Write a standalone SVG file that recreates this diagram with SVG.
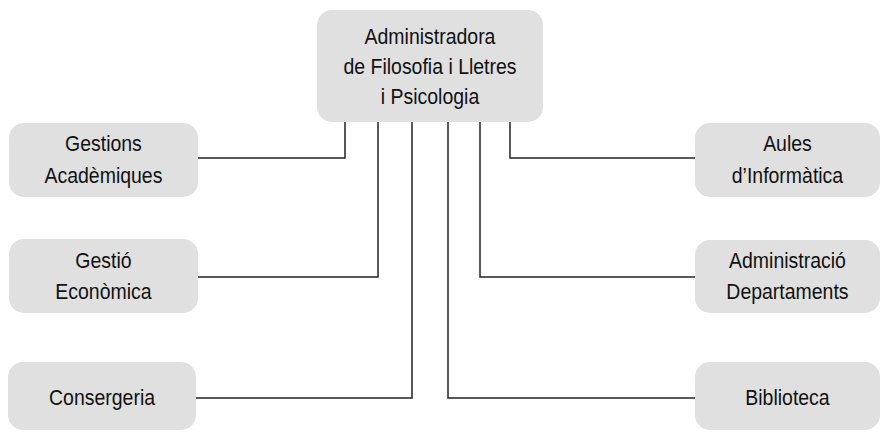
<svg xmlns="http://www.w3.org/2000/svg" width="881" height="432" viewBox="0 0 881 432">
<style>
.box{fill:#e0e0e0;stroke:none}
.t{font-family:"Liberation Sans",Arial,sans-serif;font-size:22px;fill:#111;text-anchor:middle}
.c{fill:none;stroke:#222;stroke-width:1.5}
</style>
<rect width="881" height="432" fill="#fff"/>
<g id="connectors">
<polyline class="c" points="345,122 345,158 198,158"/>
<polyline class="c" points="378,122 378,277 198,277"/>
<polyline class="c" points="412,122 412,398 196,398"/>
<polyline class="c" points="448,122 448,398 695,398"/>
<polyline class="c" points="480,122 480,277 695,277"/>
<polyline class="c" points="510,122 510,158 695,158"/>
</g>
<g id="root">
<rect class="box" x="317" y="10" width="226" height="112" rx="15"/>
<g transform="scale(0.885 1)">
<text class="t" x="485.9" y="44">Administradora</text>
<text class="t" x="485.9" y="74">de Filosofia i Lletres</text>
<text class="t" x="485.9" y="104">i Psicologia</text>
</g>
</g>
<g id="gestions">
<rect class="box" x="9" y="123" width="189" height="74" rx="15"/>
<g transform="scale(0.885 1)">
<text class="t" x="116.9" y="151">Gestions</text>
<text class="t" x="116.9" y="183">Acadèmiques</text>
</g>
</g>
<g id="gestio">
<rect class="box" x="9" y="239" width="189" height="74" rx="15"/>
<g transform="scale(0.885 1)">
<text class="t" x="116.9" y="268">Gestió</text>
<text class="t" x="116.9" y="299">Econòmica</text>
</g>
</g>
<g id="consergeria">
<rect class="box" x="8" y="362" width="188" height="68" rx="15"/>
<g transform="scale(0.885 1)">
<text class="t" x="115.3" y="405">Consergeria</text>
</g>
</g>
<g id="aules">
<rect class="box" x="695" y="123" width="185" height="74" rx="15"/>
<g transform="scale(0.885 1)">
<text class="t" x="889.8" y="151">Aules</text>
<text class="t" x="889.8" y="183">d’Informàtica</text>
</g>
</g>
<g id="administracio">
<rect class="box" x="695" y="240" width="185" height="73" rx="15"/>
<g transform="scale(0.885 1)">
<text class="t" x="889.8" y="268">Administració</text>
<text class="t" x="889.8" y="299">Departaments</text>
</g>
</g>
<g id="biblioteca">
<rect class="box" x="695" y="362" width="185" height="68" rx="15"/>
<g transform="scale(0.885 1)">
<text class="t" x="889.8" y="405">Biblioteca</text>
</g>
</g>
</svg>
